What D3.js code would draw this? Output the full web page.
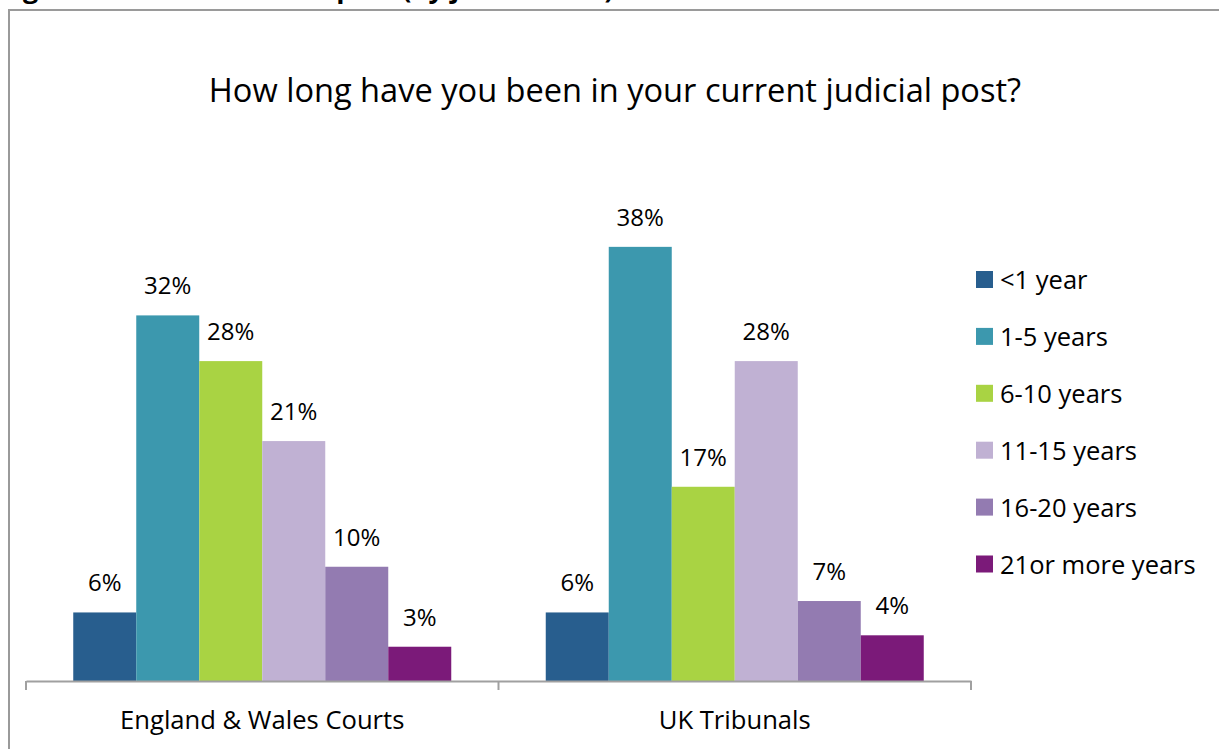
<!DOCTYPE html>
<html>
<head>
<meta charset="utf-8">
<script src="https://cdn.jsdelivr.net/npm/d3@7"></script>
<style>
  html, body { margin: 0; padding: 0; background: #fff; }
  svg { display: block; }
  text { font-family: "Open Sans", "Noto Sans", sans-serif; fill: #000; }
</style>
</head>
<body>
<svg id="chart" width="1219" height="749"></svg>
<script>
// Survey answers: share of judges by time in current post
const categories = ["England & Wales Courts", "UK Tribunals"];
const seriesNames = ["<1 year", "1-5 years", "6-10 years", "11-15 years", "16-20 years", "21or more years"];
const courtsValues = [6, 32, 28, 21, 10, 3];
const tribunalsValues = [6, 38, 17, 28, 7, 4];
const seriesColors = ["#285E8E", "#3C98AE", "#A9D343", "#C0B1D3", "#937BB1", "#7B1A79"];

const valuesByCategory = [courtsValues, tribunalsValues];

const svg = d3.select("#chart");

// Figure caption (page heading above the chart frame)
svg.append("text")
  .attr("x", 0)
  .attr("y", -2)
  .style("font-size", "27px")
  .style("font-weight", "bold")
  .text("Figure 4: Time in current post (by jurisdiction)");

// Chart frame
svg.append("rect")
  .attr("x", 9).attr("y", 10)
  .attr("width", 1260).attr("height", 800)
  .attr("fill", "none")
  .attr("stroke", "#9a9a9a")
  .attr("stroke-width", 2);

// Title
svg.append("text")
  .attr("x", 615)
  .attr("y", 102)
  .attr("text-anchor", "middle")
  .style("font-size", "32.6px")
  .text("How long have you been in your current judicial post?");

const x0 = d3.scaleBand().domain(categories).range([26, 971]).padding(0);
const x1 = d3.scaleBand().domain(seriesNames)
  .range([x0.bandwidth() * 0.1, x0.bandwidth() * 0.9]).padding(0);
const y = d3.scaleLinear().domain([0, 40]).range([681, 224]);

// Bars and value labels
const groups = svg.selectAll("g.cat")
  .data(categories)
  .join("g")
  .attr("class", "cat")
  .attr("transform", d => `translate(${x0(d)},0)`);

groups.each(function (cat, ci) {
  const g = d3.select(this);
  const rows = seriesNames.map((s, i) => ({ s, v: valuesByCategory[ci][i], c: seriesColors[i] }));
  g.selectAll("rect")
    .data(rows)
    .join("rect")
    .attr("x", d => x1(d.s))
    .attr("y", d => y(d.v))
    .attr("width", x1.bandwidth())
    .attr("height", d => y(0) - y(d.v))
    .attr("fill", d => d.c);
  g.selectAll("text.val")
    .data(rows)
    .join("text")
    .attr("class", "val")
    .attr("x", d => x1(d.s) + x1.bandwidth() / 2)
    .attr("y", d => y(d.v) - 21)
    .attr("text-anchor", "middle")
    .style("font-size", "24px")
    .text(d => d.v + "%");
});

// Category axis
const axis = d3.axisBottom(x0).tickSize(0).tickFormat("");
const axisG = svg.append("g").attr("transform", `translate(0,${y(0)})`).call(axis);
axisG.select(".domain").attr("stroke", "#a0a0a0").attr("stroke-width", 2);
const tickXs = [26, 26 + x0.bandwidth(), 971];
svg.selectAll("line.tick-mark")
  .data(tickXs)
  .join("line")
  .attr("class", "tick-mark")
  .attr("x1", d => d).attr("x2", d => d)
  .attr("y1", y(0)).attr("y2", y(0) + 9)
  .attr("stroke", "#a0a0a0")
  .attr("stroke-width", 2);

svg.selectAll("text.cat-label")
  .data(categories)
  .join("text")
  .attr("class", "cat-label")
  .attr("x", d => x0(d) + x0.bandwidth() / 2)
  .attr("y", 729)
  .attr("text-anchor", "middle")
  .style("font-size", "25.6px")
  .text(d => d);

// Legend
const legend = svg.append("g").attr("transform", "translate(976,0)");
const legendItems = legend.selectAll("g")
  .data(seriesNames)
  .join("g")
  .attr("transform", (d, i) => `translate(0,${280 + i * 56.9})`);
legendItems.append("rect")
  .attr("x", 0).attr("y", -9)
  .attr("width", 17).attr("height", 17)
  .attr("fill", (d, i) => seriesColors[i]);
legendItems.append("text")
  .attr("x", 24).attr("y", 9)
  .style("font-size", "25.5px")
  .text(d => d);
</script>
</body>
</html>
